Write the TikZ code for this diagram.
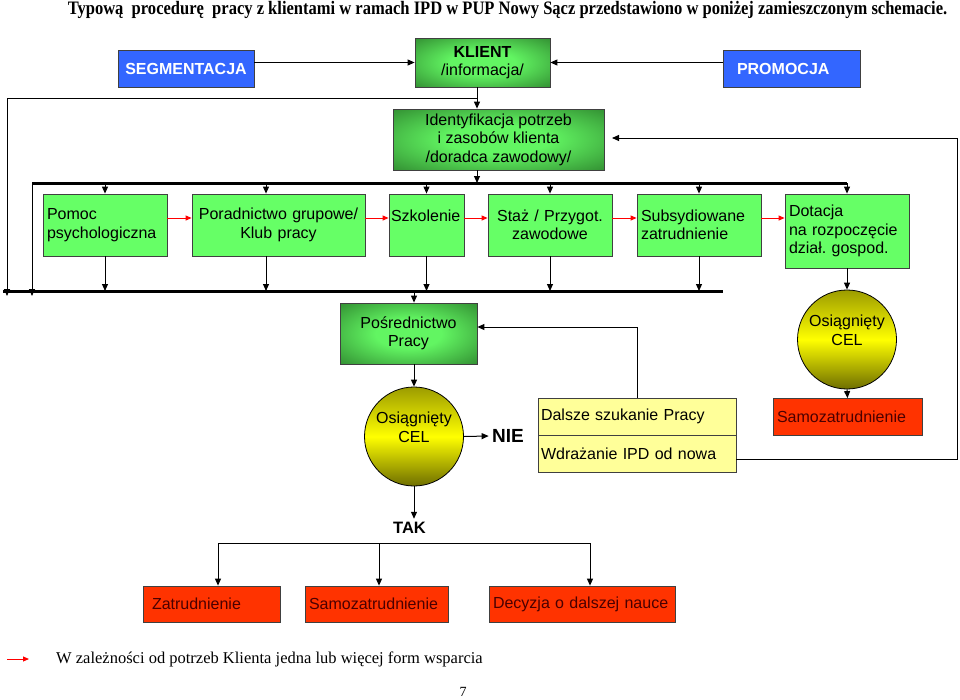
\documentclass[tikz,border=0pt]{standalone}
\usepackage{fontspec}
\setmainfont{Liberation Serif}
\setsansfont{Liberation Sans}
\usepackage{tikz}
\usepackage{xcolor}
\usetikzlibrary{
    arrows.meta,
    calc,
    positioning
}
\frenchspacing
\definecolor{tilegreen}{HTML}{66FF66}
\definecolor{glowlight}{HTML}{62F562}
\definecolor{glowdark}{HTML}{1E641E}
\definecolor{tileblue}{HTML}{3366FF}
\definecolor{tilered}{HTML}{FF3300}
\definecolor{redink}{HTML}{4A0000}
\definecolor{paleyellow}{HTML}{FFFF99}
\definecolor{goalhigh}{HTML}{FFFF00}
\definecolor{goaltop}{HTML}{9C9C00}
\definecolor{goalbottom}{HTML}{6E6E00}
\pgfdeclareradialshading{greenglow}{\pgfpoint{0bp}{0bp}}{color(0bp)=(glowlight); color(12bp)=(glowlight); color(46bp)=(glowdark); color(50bp)=(glowdark)}
\newcommand{\sfsize}{\sffamily\fontsize{16}{18.5}\selectfont}

\begin{document}
\begin{tikzpicture}[x=1pt, y=-1pt, >={Triangle[length=7pt,width=6pt]},
        tile/.style={draw=black!75, line width=0.8pt, fill=tilegreen, font=\sfsize, inner xsep=4pt, inner ysep=0pt},
        deep/.style={tile, shading=greenglow, align=center},
        flag/.style={tile, fill=tileblue, text=white, font=\sfsize\bfseries, align=center, minimum height=37pt},
        outcome/.style={tile, fill=tilered, text=redink, minimum height=37pt, align=left},
        pale/.style={tile, fill=paleyellow, minimum height=37pt, align=left, inner xsep=3pt},
        goal/.style={circle, draw=black, line width=0.8pt, minimum size=99pt, inner sep=0pt, top color=goaltop, bottom color=goalbottom, middle color=goalhigh, font=\sfsize, align=center},
        bus/.style={line width=3pt},
        wire/.style={line width=1pt},
        hint/.style={red, line width=1pt, -{Triangle[length=6pt,width=5pt]}}]
    \useasboundingbox (0,0) rectangle (960,699);
    \node[font=\bfseries\fontsize{19}{21}\selectfont] (title) at (507.5,10) {\scalebox{0.87}[1]{Typową~ procedurę~ pracy z klientami w ramach IPD w PUP Nowy Sącz przedstawiono w poniżej zamieszczonym schemacie.}};
    \node[flag, minimum width=136pt] (segm) at (186,69) {SEGMENTACJA};
    \node[deep, minimum width=135pt, minimum height=49pt] (klient) at (482.5,62.5) {\textbf{KLIENT}\\/informacja/};
    \node[flag, align=left, text width=109pt, inner xsep=14pt] (promo) at (791.5,69) {PROMOCJA};
    \node[deep, minimum width=211pt, minimum height=61pt] (ident) at (498.5,139.5) {Identyfikacja potrzeb\\i zasobów klienta\\/doradca zawodowy/};
    \node[tile, text width=116pt, minimum height=62pt, align=left] (pomoc) at (105,225) {Pomoc\\psychologiczna};
    \node[tile, text width=165pt, minimum height=62pt, align=center] (porad) at (278.5,225) {Poradnictwo grupowe/\\Klub pracy};
    \node[tile, text width=71pt, inner xsep=2pt, minimum height=62pt, align=left] (szkol) at (426.5,225) {Szkolenie\\\mbox{}};
    \node[tile, text width=116pt, minimum height=62pt, align=center] (staz) at (550,225) {Staż / Przygot.\\zawodowe};
    \node[tile, text width=116pt, minimum height=62pt, align=left] (subs) at (699,225) {Subsydiowane\\zatrudnienie};
    \node[tile, text width=116pt, minimum height=74pt, align=left] (dotac) at (847,231) {Dotacja\\na rozpoczęcie\\dział. gospod.};
    \node[deep, minimum width=137pt, minimum height=61pt] (posr) at (408.5,333.5) {Pośrednictwo\\Pracy};
    \node[goal] (goal1) at (414,436.5) {Osiągnięty\\CEL\\\mbox{}};
    \node[goal] (goal2) at (847,339.5) {Osiągnięty\\CEL\\\mbox{}};
    \node[outcome, text width=141pt] (samo1) at (847.5,417) {Samozatrudnienie};
    \node[pale, text width=192pt] (dalsze) at (637,416.5) {Dalsze szukanie Pracy};
    \node[pale, text width=192pt] (wdraz) at (637,453.5) {Wdrażanie IPD od nowa};
    \node[font=\sffamily\bfseries\fontsize{19}{22}\selectfont] (nie) at (508,436) {NIE};
    \node[font=\sffamily\bfseries\fontsize{16.5}{18}\selectfont] (tak) at (409.5,528) {TAK};
    \node[outcome, text width=119pt, inner xsep=9pt, minimum height=36pt] (zatr) at (211.5,604) {Zatrudnienie};
    \node[outcome, text width=135pt, minimum height=36pt] (samo2) at (376.5,604) {Samozatrudnienie};
    \node[outcome, text width=178pt, minimum height=36pt] (decyz) at (582,604) {Decyzja o dalszej nauce};
    \node[anchor=west, inner sep=0pt, font=\fontsize{16.5}{18}\selectfont] (keytext) at (56,659) {W zależności od potrzeb Klienta jedna lub więcej form wsparcia};
    \node[font=\fontsize{14}{16}\selectfont] (pagenum) at (463,692) {7};
    \coordinate (drop) at (477,98);
    \coordinate (bypass) at (7,296);
    \coordinate (busTopL) at (32,183);
    \coordinate (busLowL) at (3,291);
    \coordinate (busLowR) at (723,291);
    \coordinate (poradX) at (266,0);
    \coordinate (redrow) at (0,218);
    \coordinate (backA) at (637,327);
    \coordinate (loopB) at (957,459);
    \coordinate (loopC) at (957,138);
    \coordinate (loopEnd) at (612,138);
    \coordinate (takL) at (218,543);
    \coordinate (takM) at (379,543);
    \coordinate (takR) at (590,543);
    \coordinate (keyA) at (7,659);
    \coordinate (keyB) at (29,659);
    \draw[bus] (busTopL) -- (dotac.north |- busTopL);
    \draw[bus] (busLowL) -- (busLowR);
    \draw[wire] (takL) -- (takR);
    \draw[wire]
        (segm.east |- klient) edge[->] (klient.west)
        (promo.west |- klient) edge[->] (klient.east)
        (drop |- klient.south) edge[->] (drop |- ident.north)
        (drop |- ident.south) edge[->] (drop |- busTopL)
        (pomoc.north |- busTopL) edge[->] (pomoc.north)
        (poradX |- busTopL) edge[->] (poradX |- porad.north)
        (szkol.north |- busTopL) edge[->] (szkol.north)
        (staz.north |- busTopL) edge[->] (staz.north)
        (subs.north |- busTopL) edge[->] (subs.north)
        (dotac.north |- busTopL) edge[->] (dotac.north)
        (busTopL) edge[->] (busTopL |- bypass)
        (pomoc.south) edge[->] (pomoc.south |- busLowL)
        (poradX |- porad.south) edge[->] (poradX |- busLowL)
        (szkol.south) edge[->] (szkol.south |- busLowL)
        (staz.south) edge[->] (staz.south |- busLowL)
        (subs.south) edge[->] (subs.south |- busLowL)
        (dotac.south) edge[->] (goal2.north)
        (goal2.south) edge[->] (samo1.north)
        (goal1 |- busLowL) edge[->] (goal1 |- posr.north)
        (goal1 |- posr.south) edge[->] (goal1.north)
        (goal1.east) edge[->] (nie.west)
        (goal1.south) edge[->] (goal1 |- tak.north)
        (takL) edge[->] (takL |- zatr.north)
        (takM) edge[->] (takM |- samo2.north)
        (takR) edge[->] (takR |- decyz.north);
    \draw[wire, ->] (drop) -| (bypass);
    \draw[wire, ->] (dalsze.north) -- (backA) -- (posr.east |- backA);
    \draw[wire, ->] (wdraz.east |- loopB) -- (loopB) -- (loopC) -- (loopEnd);
    \draw[hint] (pomoc.east |- redrow) -- (porad.west |- redrow);
    \draw[hint] (porad.east |- redrow) -- (szkol.west |- redrow);
    \draw[hint] (szkol.east |- redrow) -- (staz.west |- redrow);
    \draw[hint] (staz.east |- redrow) -- (subs.west |- redrow);
    \draw[hint] (subs.east |- redrow) -- (dotac.west |- redrow);
    \draw[hint] (keyA) -- (keyB);
\end{tikzpicture}
\end{document}
